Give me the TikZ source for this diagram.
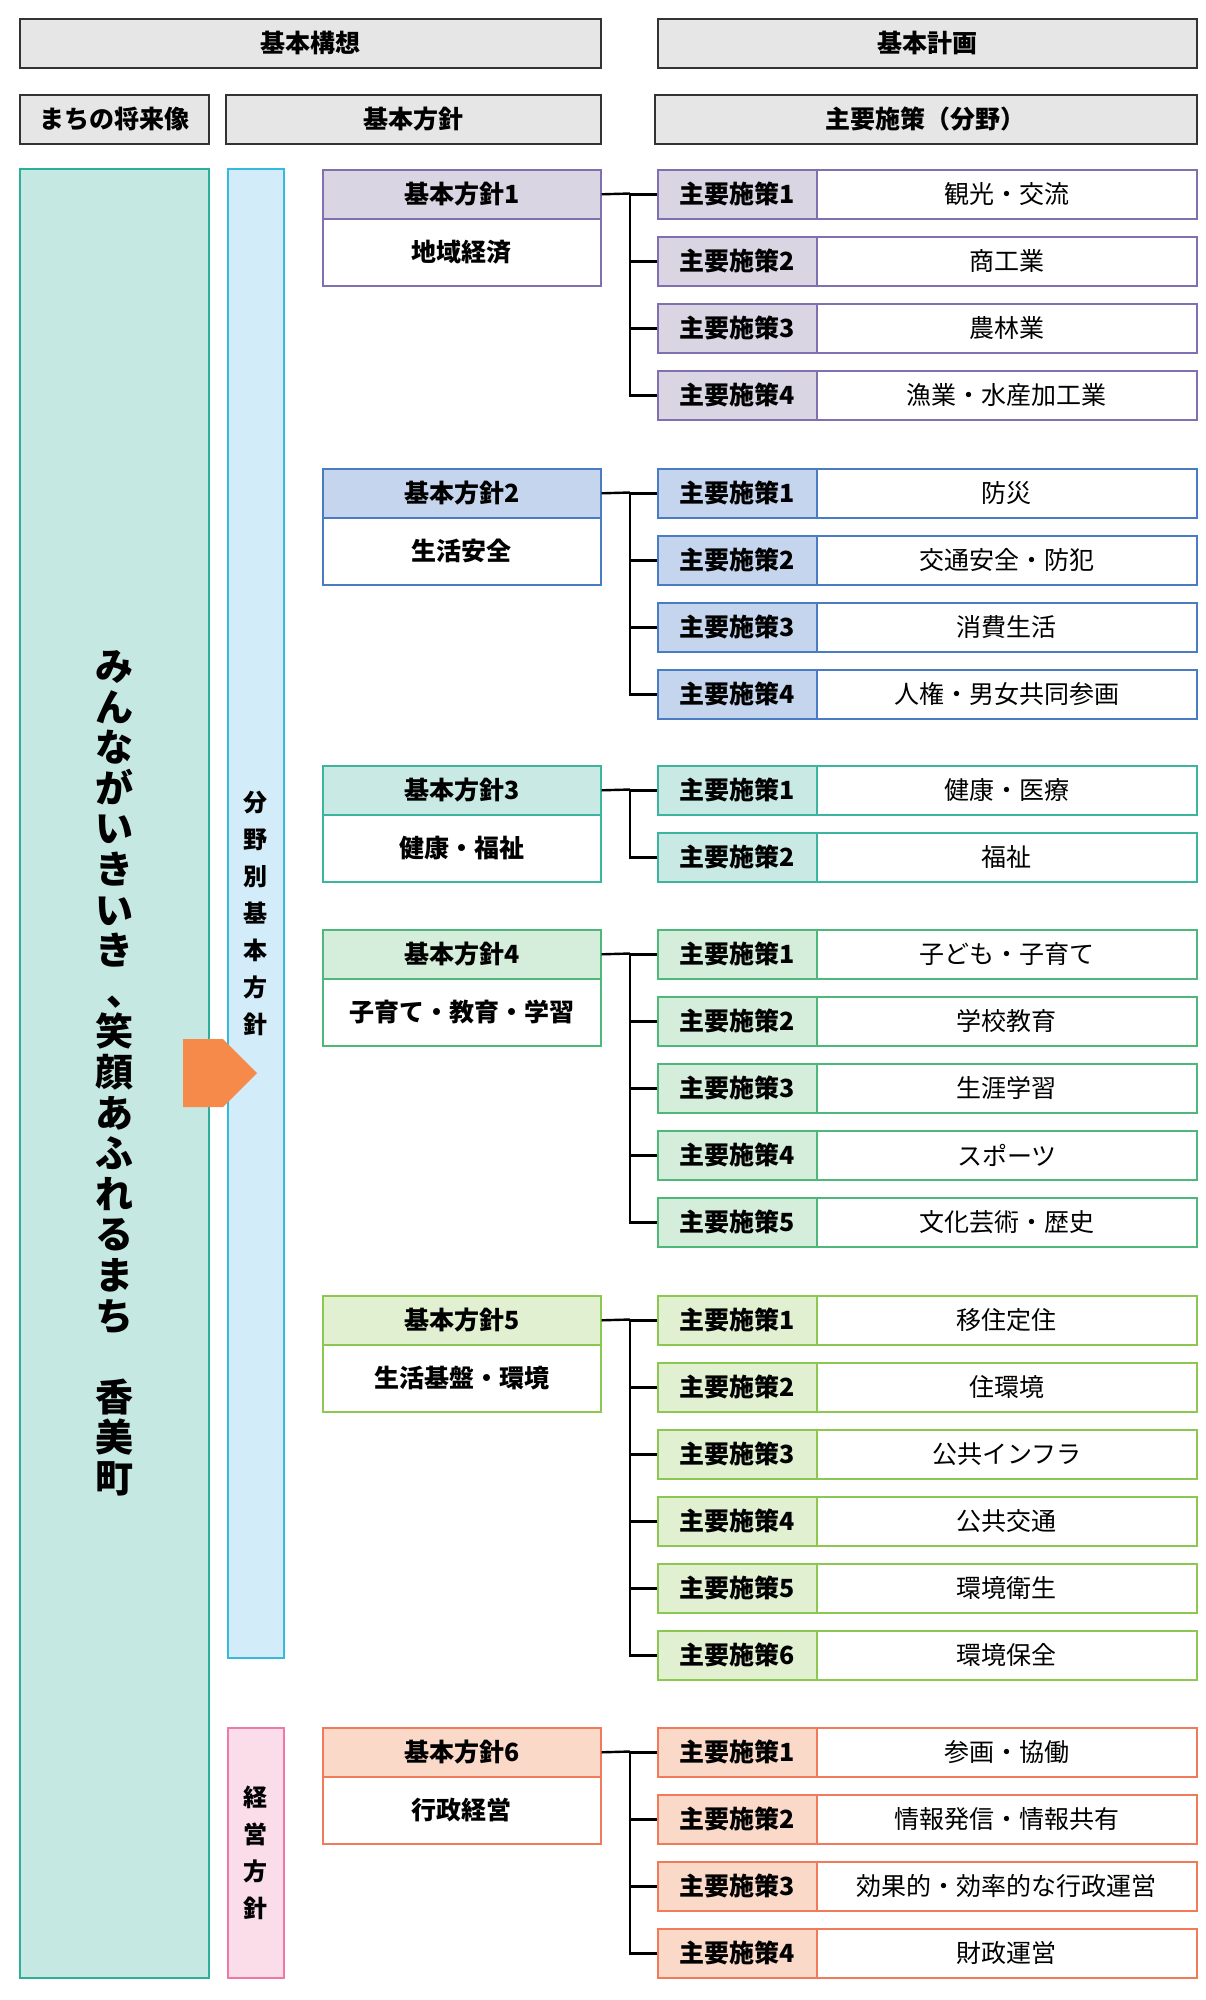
\documentclass[tikz,border=0pt]{standalone}
\usepackage{fontspec}
\setmainfont{Noto Sans CJK JP}
\newfontfamily\jb{Noto Sans CJK JP}[BoldFont={* Bold}]
\usetikzlibrary{shapes.arrows}
\definecolor{hdfill}{HTML}{E6E6E6}
\definecolor{c1b}{HTML}{8070B0}\definecolor{c1f}{HTML}{D9D5E3}
\definecolor{c2b}{HTML}{4A7CC4}\definecolor{c2f}{HTML}{C5D5EE}
\definecolor{c3b}{HTML}{3BB5A0}\definecolor{c3f}{HTML}{C9EAE4}
\definecolor{c4b}{HTML}{4DB87A}\definecolor{c4f}{HTML}{D5EDDB}
\definecolor{c5b}{HTML}{8CC850}\definecolor{c5f}{HTML}{E0F0D0}
\definecolor{c6b}{HTML}{F07A5A}\definecolor{c6f}{HTML}{FBD9C8}
\definecolor{bigf}{HTML}{C6E8E3}\definecolor{bigb}{HTML}{2BAE9A}
\definecolor{lbf}{HTML}{D3ECF9}\definecolor{lbb}{HTML}{35B9E0}
\definecolor{pkf}{HTML}{FBDDE9}\definecolor{pkb}{HTML}{EE78A8}
\definecolor{arr}{HTML}{F58A4B}
\tikzset{
 box/.style={draw, line width=1.6pt, inner sep=0pt, anchor=north west, font=\fontsize{25}{28}\selectfont\bfseries},
 hdr/.style={box, draw=black!80, fill=hdfill},
 lab/.style={box, minimum width=159pt, minimum height=49pt},
 cont/.style={box, fill=white, minimum width=380pt, minimum height=49pt, font=\fontsize{25}{28}\selectfont},
 ph/.style={box, minimum width=278pt, minimum height=49pt},
 pb/.style={box, fill=white, minimum width=278pt, minimum height=67pt},
 conn/.style={line width=2.4pt, black}
}
\newcommand\policy[6]{% id, top, title, color, measures count, list
 \node[ph, draw=c#4b, fill=c#4f] (p#1h) at (322,#2) {基本方針#1};
 \node[pb, draw=c#4b, anchor=north west] (p#1b) at (322,#2+49) {#3};
 \coordinate (t#1) at (630,#2+24.5);
 \foreach \txt [count=\k] in {#6} {
  \node[lab, draw=c#4b, fill=c#4f] (m#1-\k) at (657,#2+67*\k-67) {主要施策\k};
  \node[cont, draw=c#4b] (c#1-\k) at (816,#2+67*\k-67) {\txt};
  \draw[conn] (t#1) |- (m#1-\k.west);
 }
 \draw[conn] (p#1h.east) -- (t#1);
}
\begin{document}
\begin{tikzpicture}[x=1pt,y=-1pt]
\useasboundingbox (0,0) rectangle (1205,2000);
\node[hdr, minimum width=581pt, minimum height=49pt] (hk) at (19,18) {基本構想};
\node[hdr, minimum width=539pt, minimum height=49pt] (hp) at (657,18) {基本計画};
\node[hdr, minimum width=189pt, minimum height=49pt] (hs) at (19,94) {まちの将来像};
\node[hdr, minimum width=375pt, minimum height=49pt] (hb) at (225,94) {基本方針};
\node[hdr, minimum width=542pt, minimum height=49pt] (hm) at (654,94) {主要施策（分野）};
\node[box, draw=bigb, fill=bigf, minimum width=189pt, minimum height=1809pt] (big) at (19,168) {};
\node[box, draw=lbb, fill=lbf, minimum width=56pt, minimum height=1489pt] (lb) at (227,168) {};
\node[box, draw=pkb, fill=pkf, minimum width=56pt, minimum height=250pt] (pk) at (227,1727) {};
\node[align=center, font=\fontsize{38}{40.6}\selectfont\bfseries] (bt) at (big.center) {み\\ん\\な\\が\\い\\き\\い\\き\\\hspace*{0.6em}、\\笑\\顔\\あ\\ふ\\れ\\る\\ま\\ち\\\\香\\美\\町};
\node[align=center, font=\fontsize{24}{37}\selectfont\bfseries] (lt) at (lb.center) {分\\野\\別\\基\\本\\方\\針};
\node[align=center, font=\fontsize{24}{37}\selectfont\bfseries] (pt) at (pk.center) {経\\営\\方\\針};
\node[single arrow, fill=arr, draw=none, minimum width=68pt, single arrow head extend=0pt, minimum height=74pt, inner sep=0pt, single arrow tip angle=90, shape border uses incircle=false] (ar) at (203,1073) {};
\policy{1}{169}{地域経済}{1}{4}{観光・交流,商工業,農林業,漁業・水産加工業}
\policy{2}{468}{生活安全}{2}{4}{防災,交通安全・防犯,消費生活,人権・男女共同参画}
\policy{3}{765}{健康・福祉}{3}{2}{健康・医療,福祉}
\policy{4}{929}{子育て・教育・学習}{4}{5}{子ども・子育て,学校教育,生涯学習,スポーツ,文化芸術・歴史}
\policy{5}{1295}{生活基盤・環境}{5}{6}{移住定住,住環境,公共インフラ,公共交通,環境衛生,環境保全}
\policy{6}{1727}{行政経営}{6}{4}{参画・協働,情報発信・情報共有,効果的・効率的な行政運営,財政運営}
\end{tikzpicture}
\end{document}
